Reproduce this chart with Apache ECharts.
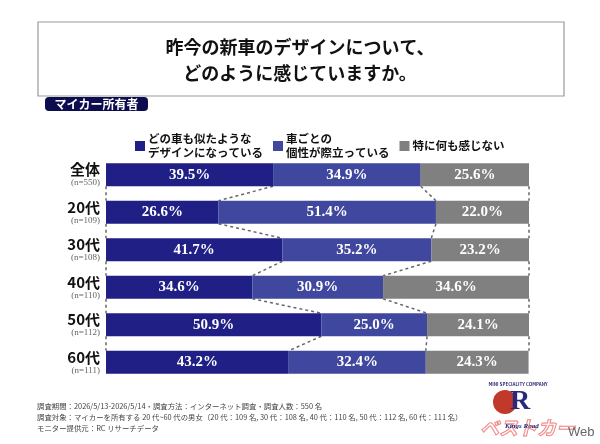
<!DOCTYPE html>
<html>
<head>
<meta charset="utf-8">
<script src="https://cdn.jsdelivr.net/npm/echarts@6/dist/echarts.min.js"></script>
<style>
  html, body { margin: 0; padding: 0; background: #fff; }
  #chart { width: 600px; height: 444px; }
</style>
</head>
<body>
<div id="chart"></div>
<script>
// 回答カテゴリ
const groups = ["全体", "20代", "30代", "40代", "50代", "60代"];
const sampleSizes = ["n=550", "n=109", "n=108", "n=110", "n=112", "n=111"];
const seriesNames = ["どの車も似たような\nデザインになっている", "車ごとの\n個性が際立っている", "特に何も感じない"];
const similar = [39.5, 26.6, 41.7, 34.6, 50.9, 43.2];
const distinct = [34.9, 51.4, 35.2, 30.9, 25.0, 32.4];
const nothing = [25.6, 22.0, 23.2, 34.6, 24.1, 24.3];

const colors = ["#1f1f86", "#40479e", "#808080"];
const serif = '"Liberation Serif", "Noto Sans CJK JP", serif';
const jp = '"Noto Sans CJK JP", sans-serif';

// 区切り線（上の棒の境界 → 下の棒の境界）
function buildConnectors() {
  const cums = groups.map((g, i) => {
    const a = similar[i], b = a + distinct[i];
    return [0, a, b, 100];
  });
  const out = [];
  for (let i = 0; i < groups.length - 1; i++) {
    for (let k = 0; k < 4; k++) {
      out.push([cums[i][k], cums[i + 1][k], i]);
    }
  }
  return out;
}

const chart = echarts.init(document.getElementById("chart"));

const barSeries = [similar, distinct, nothing].map((vals, idx) => ({
  name: seriesNames[idx],
  type: "bar",
  stack: "total",
  barWidth: 23,
  data: vals,
  itemStyle: { color: colors[idx] },
  label: {
    show: true,
    position: "inside",
    formatter: (p) => p.value.toFixed(1) + "%",
    color: "#fff",
    fontFamily: serif,
    fontWeight: "bold",
    fontSize: 15,
  },
  z: 3,
}));

const option = {
  backgroundColor: "#fff",
  animation: false,
  grid: { left: 106, right: 71, top: 156, bottom: 63 },
  legend: {
    left: 130,
    top: 127,
    itemWidth: 10,
    itemHeight: 10,
    itemGap: 10,
    icon: "rect",
    data: seriesNames,
    textStyle: {
      fontFamily: jp,
      fontWeight: "bold",
      fontSize: 11.5,
      lineHeight: 14,
      color: "#111",
      padding: [0, 0, 0, -2],
    },
  },
  xAxis: { type: "value", min: 0, max: 100, show: false },
  yAxis: {
    type: "category",
    data: groups,
    inverse: true,
    axisLine: { show: false },
    axisTick: { show: false },
    axisLabel: {
      margin: 6,
      align: "right",
      formatter: (v, i) => "{a|" + v + "}\n{b|(" + sampleSizes[i] + ")}",
      rich: {
        a: { fontFamily: jp, fontWeight: "bold", fontSize: 15, color: "#111", lineHeight: 16, align: "right" },
        b: { fontFamily: serif, fontSize: 9, color: "#666", lineHeight: 10, align: "right" },
      },
    },
  },
  series: [
    ...barSeries,
    {
      type: "custom",
      silent: true,
      z: 2,
      data: buildConnectors(),
      renderItem: (params, api) => {
        const half = 23 / 2;
        const p1 = api.coord([api.value(0), api.value(2)]);
        const p2 = api.coord([api.value(1), api.value(2) + 1]);
        return {
          type: "line",
          shape: { x1: p1[0], y1: p1[1] + half, x2: p2[0], y2: p2[1] - half },
          style: { stroke: "#666", lineWidth: 1.5, lineDash: [3, 3] },
        };
      },
    },
  ],
  graphic: [
    {
      type: "rect",
      shape: { x: 38, y: 22, width: 526, height: 74 },
      style: { fill: "#fff", stroke: "#9a9a9a", lineWidth: 1.2 },
    },
    {
      type: "text",
      x: 300, y: 47,
      style: {
        text: "昨今の新車のデザインについて、",
        fontFamily: jp, fontWeight: "bold", fontSize: 18, fill: "#111",
        align: "center", verticalAlign: "middle",
      },
    },
    {
      type: "text",
      x: 300, y: 73,
      style: {
        text: "どのように感じていますか。",
        fontFamily: jp, fontWeight: "bold", fontSize: 18, fill: "#111",
        align: "center", verticalAlign: "middle",
      },
    },
    {
      type: "rect",
      shape: { x: 45, y: 97, width: 103, height: 14, r: 4 },
      style: { fill: "#0c0c4e" },
    },
    {
      type: "text",
      x: 96.5, y: 104,
      style: {
        text: "マイカー所有者",
        fontFamily: jp, fontWeight: "bold", fontSize: 12, fill: "#fff",
        align: "center", verticalAlign: "middle",
      },
    },
    {
      type: "text",
      left: 37, top: 401,
      style: {
        text: "調査期間：2026/5/13-2026/5/14・調査方法：インターネット調査・調査人数：550 名\n" +
              "調査対象：マイカーを所有する 20 代~60 代の男女（20 代：109 名, 30 代：108 名, 40 代：110 名, 50 代：112 名, 60 代：111 名）\n" +
              "モニター提供元：RC リサーチデータ",
        fontFamily: jp, fontSize: 7.4, lineHeight: 11, fill: "#444",
      },
    },
    // ロゴ（簡略）
    {
      type: "circle",
      shape: { cx: 505, cy: 402, r: 12 },
      style: { fill: "#c0392b" },
    },
    {
      type: "text",
      x: 510, y: 402,
      style: {
        text: "R", fontFamily: serif, fontWeight: "bold", fontSize: 28, fill: "#2a2a7a",
        align: "left", verticalAlign: "middle",
      },
    },
    {
      type: "text",
      x: 518, y: 384,
      style: {
        text: "MINI SPECIALITY COMPANY", fontFamily: jp, fontWeight: "bold", fontSize: 4.5, fill: "#2a2a7a",
        align: "center", verticalAlign: "middle",
      },
    },
    {
      type: "text",
      x: 480, y: 428,
      style: {
        text: "ベストカー", fontFamily: jp, fontWeight: "bold", fontStyle: "italic", fontSize: 19,
        fill: "rgba(255,255,255,0.3)", stroke: "#f08080", lineWidth: 1.2,
        align: "left", verticalAlign: "middle",
      },
    },
    {
      type: "text",
      x: 505, y: 426,
      style: {
        text: "Kings Road", fontFamily: serif, fontWeight: "bold", fontStyle: "italic", fontSize: 7, fill: "#2a2a7a",
        align: "left", verticalAlign: "middle",
      },
    },
    {
      type: "text",
      x: 568, y: 432,
      style: {
        text: "Web", fontFamily: '"Liberation Sans", sans-serif', fontSize: 13, fill: "#666",
        align: "left", verticalAlign: "middle",
      },
    },
  ],
};

chart.setOption(option);
</script>
</body>
</html>
